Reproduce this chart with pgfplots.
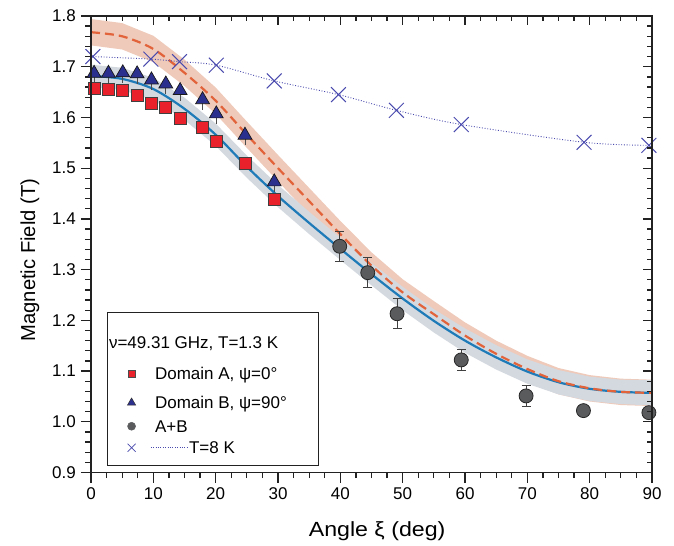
\documentclass[border=0pt]{standalone}
\usepackage{fontspec}
\setmainfont{Liberation Sans}
\newfontfamily\xlabfont[FakeStretch=1.13]{Liberation Sans}
\usepackage{pgfplots}
\usepackage{pgfplotstable}
\pgfplotsset{compat=1.18}
\usetikzlibrary{calc}

\definecolor{sqred}{HTML}{E8212A}
\definecolor{trinavy}{HTML}{2B2F8E}
\definecolor{circgray}{HTML}{5A5B5D}
\definecolor{crossblue}{HTML}{4A4AAE}
\definecolor{fitblue}{HTML}{1F7AB8}
\definecolor{fitred}{HTML}{E2633A}
\definecolor{bandred}{HTML}{EFCABA}
\definecolor{bandgray}{HTML}{D4D9E0}
\definecolor{axcol}{HTML}{222222}

\pgfplotstableread{
x y
0.5 1.658
2.8 1.656
5.1 1.654
7.4 1.644
9.7 1.628
12.0 1.620
14.3 1.599
17.9 1.581
20.1 1.553
24.7 1.509
29.4 1.438
}\sqdata

\pgfplotstableread{
x y
0.5 1.687
2.8 1.687
5.1 1.688
7.4 1.686
9.7 1.674
12.0 1.666
14.3 1.653
17.9 1.635
20.1 1.607
24.7 1.565
29.4 1.473
}\tridata

\pgfplotstableread{
x y e
39.9 1.346 0.030
44.4 1.294 0.030
49.1 1.213 0.030
59.4 1.122 0.020
69.8 1.051 0.020
79.0 1.022 0.005
89.5 1.018 0.005
}\circdata

\pgfplotstableread{
x y
0.3 1.720
9.6 1.715
14.2 1.710
20.1 1.703
29.4 1.672
39.7 1.645
49.0 1.614
59.4 1.586
79.1 1.551
89.5 1.545
}\crossdata

\begin{document}
\begin{tikzpicture}
\begin{axis}[name=ax, scale only axis, width=561pt, height=456.5pt,
  xmin=0, xmax=90, ymin=0.9, ymax=1.8,
  xtick={0,10,20,30,40,50,60,70,80,90},
  ytick={0.9,1.0,1.1,1.2,1.3,1.4,1.5,1.6,1.7,1.8},
  minor x tick num=3, minor y tick num=4,
  xtick pos=left, ytick pos=left, tick align=outside,
  major tick length=10pt, minor tick length=5.7pt,
  axis line style={line width=1.4pt, axcol},
  tick style={line width=1.3pt, axcol},
  tick label style={font=\fontsize{17}{20}\selectfont},
  /pgf/number format/assume math mode=true,
  yticklabel style={/pgf/number format/fixed, /pgf/number format/fixed zerofill, /pgf/number format/precision=1, inner xsep=5pt},
  xticklabel style={inner ysep=5pt},
  xlabel={Angle ξ (deg)}, ylabel={Magnetic Field (T)},
  xlabel style={at={(axis description cs:0.51,-0.1406)}, anchor=base, font=\xlabfont\fontsize{20.5}{24}\selectfont},
  ylabel style={at={(axis description cs:-0.0998,0.4655)}, anchor=base, font=\fontsize{20.2}{24}\selectfont},
  legend style={at={(axis description cs:0.029,0.0149)}, anchor=south west, draw=axcol, line width=0.9pt,
    inner xsep=15.4pt, inner ysep=8pt, column sep=13pt, row sep=0pt,
    font=\fontsize{17}{20}\selectfont, cells={anchor=base west}},
]
% bands
\addplot[fill=bandred, draw=none, forget plot] coordinates {
(0,1.794) (5,1.786) (10,1.761) (15,1.714) (20,1.659) (25,1.592) (30,1.526) (35,1.461) (40,1.396) (45,1.334) (50,1.281) (55,1.238) (60,1.196) (65,1.160) (70,1.130) (75,1.106) (80,1.092) (85,1.085) (90,1.083)
(90,1.031) (85,1.033) (80,1.040) (75,1.054) (70,1.078) (65,1.108) (60,1.144) (55,1.186) (50,1.229) (45,1.282) (40,1.344) (35,1.409) (30,1.474) (25,1.540) (20,1.607) (15,1.662) (10,1.709) (5,1.734) (0,1.742)} -- cycle;
\addplot[fill=bandgray, draw=none, forget plot] coordinates {
(0,1.704) (5,1.698) (10,1.678) (15,1.639) (20,1.588) (25,1.525) (30,1.467) (35,1.414) (40,1.363) (45,1.313) (50,1.266) (55,1.222) (60,1.184) (65,1.151) (70,1.123) (75,1.102) (80,1.089) (85,1.083) (90,1.082)
(90,1.032) (85,1.035) (80,1.041) (75,1.054) (70,1.075) (65,1.103) (60,1.136) (55,1.176) (50,1.220) (45,1.269) (40,1.319) (35,1.370) (30,1.423) (25,1.481) (20,1.544) (15,1.595) (10,1.634) (5,1.654) (0,1.660)} -- cycle;
% fits
\addplot[fitblue, line width=2.2pt, smooth, forget plot] coordinates {
(0,1.682) (5,1.676) (10,1.656) (15,1.617) (20,1.566) (25,1.503) (30,1.445) (35,1.392) (40,1.341) (45,1.291) (50,1.243) (55,1.199) (60,1.160) (65,1.127) (70,1.099) (75,1.078) (80,1.065) (85,1.059) (90,1.057)};
\addplot[fitred, line width=2.2pt, dash pattern=on 9pt off 5pt, smooth, forget plot] coordinates {
(0,1.768) (5,1.760) (10,1.735) (15,1.688) (20,1.633) (25,1.566) (30,1.500) (35,1.435) (40,1.370) (45,1.308) (50,1.255) (55,1.212) (60,1.170) (65,1.134) (70,1.104) (75,1.080) (80,1.066) (85,1.059) (90,1.057)};
% T = 8 K
\addplot[crossblue, line width=0.9pt, dash pattern=on 0.9pt off 1.8pt, smooth, forget plot] table {\crossdata};
\addplot[only marks, mark=x, mark size=10.5pt, mark options={crossblue, line width=1pt, solid}, forget plot] table {\crossdata};
% error bars (drawn below markers)
\addplot[draw=none, mark=none, forget plot, error bars/.cd, y dir=minus, y fixed=0.02,
  error bar style={line width=0.9pt, black!70}, error mark=none] table {\tridata};
\addplot[draw=none, mark=none, forget plot, error bars/.cd, y dir=both, y explicit,
  error bar style={line width=1pt, black!75}, error mark options={rotate=90, mark size=4.5pt, line width=1pt, black!75}] table[y error=e] {\circdata};
% markers
\addplot[only marks, mark=triangle*, mark size=8pt, mark options={fill=trinavy, draw=black!90, line width=0.7pt}, forget plot] table {\tridata};
\addplot[only marks, mark=square*, mark size=6pt, mark options={fill=sqred, draw=black!75, line width=0.8pt}, forget plot] table {\sqdata};
\addplot[only marks, mark=*, mark size=7pt, mark options={fill=circgray, draw=black!85, line width=0.8pt}, forget plot] table {\circdata};
% legend
\addlegendimage{empty legend}
\addlegendentry{\rule[-5pt]{0pt}{31pt}\hspace*{-46pt}ν=49.31 GHz, T=1.3 K\hspace*{23pt}}
\addlegendimage{only marks, mark=square*, mark size=3.5pt, mark options={fill=sqred, draw=black!70, line width=0.5pt},
  legend image code/.code={\path (-8pt,0pt) (8pt,0pt); \draw plot coordinates {(0pt,6pt)};}}
\addlegendentry{\rule[-5pt]{0pt}{30pt}Domain A, ψ=0°}
\addlegendimage{only marks, mark=triangle*, mark size=4.8pt, mark options={fill=trinavy, draw=black!80, line width=0.5pt},
  legend image code/.code={\path (-8pt,0pt) (8pt,0pt); \draw plot coordinates {(0pt,6pt)};}}
\addlegendentry{\rule[-5pt]{0pt}{29pt}Domain B, ψ=90°}
\addlegendimage{only marks, mark=*, mark size=4pt, mark options={fill=circgray, draw=circgray, line width=0.5pt},
  legend image code/.code={\path (-8pt,0pt) (8pt,0pt); \draw plot coordinates {(0pt,6pt)};}}
\addlegendentry{\rule[-5pt]{0pt}{23pt}A+B}
\addlegendimage{only marks, mark=x, mark size=5.7pt, mark options={crossblue, line width=0.7pt, solid},
  legend image code/.code={\path (-8pt,0pt) (8pt,0pt); \draw plot coordinates {(0pt,6pt)};
    \draw[overlay, crossblue, line width=0.8pt, dash pattern=on 0.8pt off 1.6pt] (19.3pt,6pt) -- (57.3pt,6pt);}}
\addlegendentry{\rule[-5pt]{0pt}{21pt}\hspace*{34pt}T=8 K}
\end{axis}
\begin{axis}[scale only axis, width=561pt, height=456.5pt,
  xmin=0, xmax=90, ymin=0.9, ymax=1.8,
  xtick={0,10,20,30,40,50,60,70,80,90},
  ytick={0.9,1.0,1.1,1.2,1.3,1.4,1.5,1.6,1.7,1.8},
  minor x tick num=3, minor y tick num=4,
  xtick pos=right, ytick pos=right, tick align=inside,
  xticklabels={}, yticklabels={},
  major tick length=9pt, minor tick length=5pt,
  axis line style={line width=1.4pt, axcol},
  tick style={line width=1.3pt, axcol},
]
\addplot[draw=none, forget plot] coordinates {(0,1)};
\end{axis}
\pgfresetboundingbox
\path ($(ax.south west)+(-91pt,-72.5pt)$) rectangle ($(ax.north east)+(22pt,16pt)$);
\end{tikzpicture}
\end{document}
